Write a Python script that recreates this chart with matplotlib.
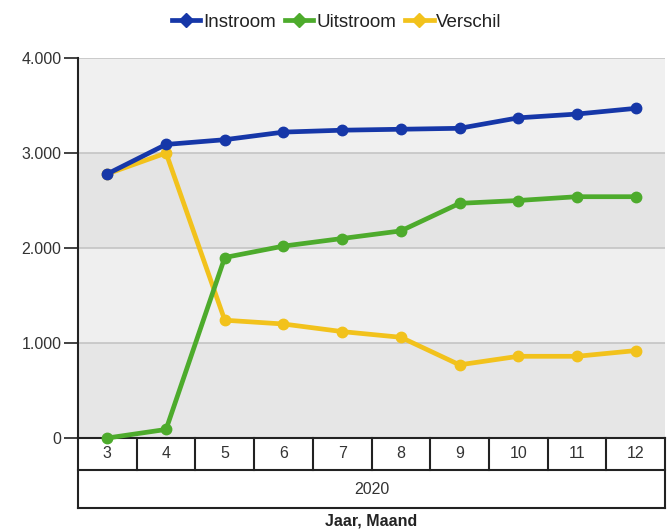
"""
Instroom / Uitstroom / Verschil per maand (2020)
"""

import matplotlib
matplotlib.use("Agg")
import matplotlib.pyplot as plt
from matplotlib.lines import Line2D
from matplotlib.ticker import FuncFormatter

plt.rcParams['font.family'] = ['Liberation Sans', 'DejaVu Sans']

#### data ####
maanden = [3, 4, 5, 6, 7, 8, 9, 10, 11, 12]
jaar = "2020"
instroom = [2780, 3090, 3140, 3220, 3240, 3250, 3260, 3370, 3410, 3470]
uitstroom = [0, 90, 1900, 2020, 2100, 2180, 2470, 2500, 2540, 2540]
verschil = [2780, 3000, 1240, 1200, 1120, 1060, 770, 860, 860, 920]
y_ticks = [0, 1000, 2000, 3000, 4000]

blue = "#1637a8"
green = "#4dab2c"
yellow = "#f2c21c"

W, H = 667, 530
fig = plt.figure(figsize=(W / 100, H / 100), dpi=100)
# plot area in pixels
left, right, top, bottom = 78, 665, 58, 438
ax = fig.add_axes([left / W, 1 - bottom / H, (right - left) / W, (bottom - top) / H])

# background bands
band_cols = ["#e6e6e6", "#efefef", "#e4e4e4", "#f0f0f0"]
for i in range(4):
    ax.axhspan(y_ticks[i], y_ticks[i + 1], color=band_cols[i], zorder=0, lw=0)
for yv in y_ticks[1:]:
    ax.axhline(yv, color="#c4c4c4", lw=1.2, zorder=1)

for vals, col in [(verschil, yellow), (uitstroom, green), (instroom, blue)]:
    ax.plot(maanden, vals, color=col, lw=3.4, marker="o", ms=7.5,
            solid_capstyle="round", zorder=3, clip_on=False)

ax.set_xlim(2.5, 12.5)
ax.set_ylim(0, 4000)
ax.set_yticks(y_ticks)
ax.yaxis.set_major_formatter(FuncFormatter(lambda v, p: f"{int(v):,}".replace(",", ".")))
ax.tick_params(axis="y", length=10, width=1.3, color="#333333", labelsize=11.5,
               labelcolor="#333333", pad=2)
ax.set_xticks([])
for s in ["top", "right"]:
    ax.spines[s].set_visible(False)
ax.spines["left"].set_color("#222222")
ax.spines["left"].set_linewidth(1.5)
ax.spines["bottom"].set_color("#222222")
ax.spines["bottom"].set_linewidth(1.5)

# category table under the axis
tr = ax.get_xaxis_transform()
ph = bottom - top
r1 = -32 / ph
r2 = -70 / ph
lc = "#222222"
ax.plot([2.5, 2.5], [0, r2], transform=tr, color=lc, lw=1.5, clip_on=False)
ax.plot([12.5, 12.5], [0, r2], transform=tr, color=lc, lw=1.5, clip_on=False)
ax.plot([2.5, 12.5], [r1, r1], transform=tr, color=lc, lw=1.5, clip_on=False)
ax.plot([2.5, 12.5], [r2, r2], transform=tr, color=lc, lw=1.5, clip_on=False)
for k in range(len(maanden) - 1):
    xb = maanden[k] + 0.5
    ax.plot([xb, xb], [0, r1], transform=tr, color=lc, lw=1.5, clip_on=False)
for m in maanden:
    ax.text(m, r1 / 2, str(m), transform=tr, ha="center", va="center",
            fontsize=11.5, color="#333333")
ax.text(7.5, (r1 + r2) / 2, jaar, transform=tr, ha="center", va="center",
        fontsize=11.5, color="#333333")
fig.text(0.5 * (left + right) / W, 1 - 521 / H, "Jaar, Maand", ha="center",
         va="center", fontsize=11.5, fontweight="bold", color="#222222")

# legend
handles = [Line2D([], [], color=c, lw=3.4, marker="D", ms=7) for c in (blue, green, yellow)]
fig.legend(handles, ["Instroom", "Uitstroom", "Verschil"], loc="center",
           bbox_to_anchor=(337 / W, 1 - 22 / H), ncol=3, frameon=False,
           fontsize=13.5, handlelength=1.5, handletextpad=0.15, columnspacing=0.5,
           labelcolor="#222222")

fig.savefig("out.png", dpi=100)
